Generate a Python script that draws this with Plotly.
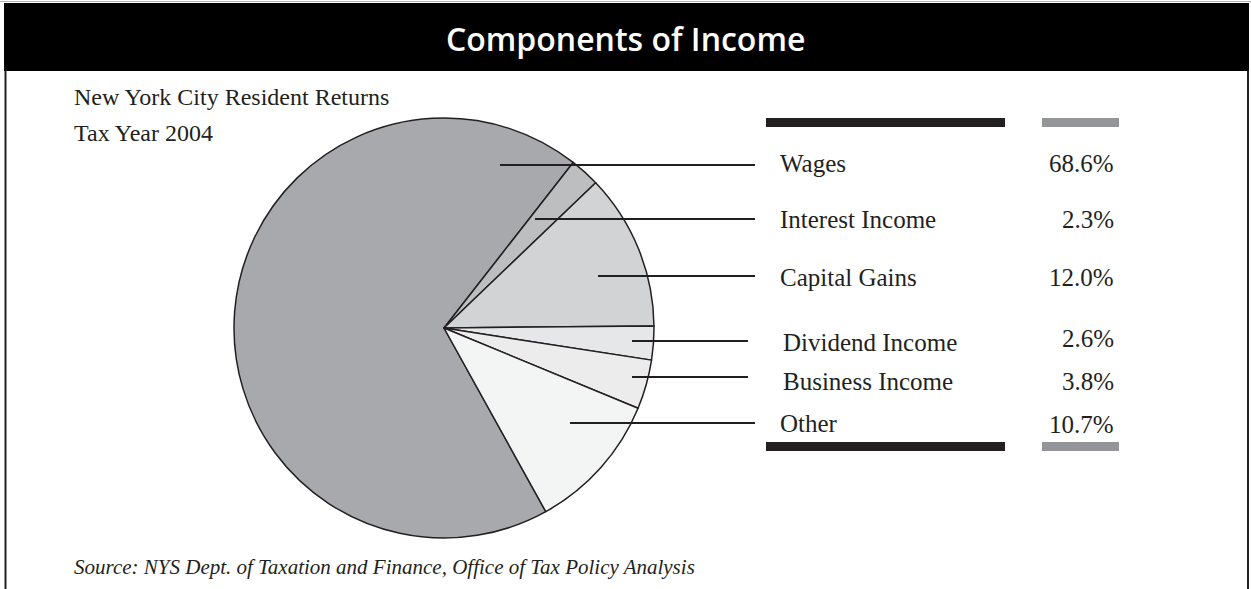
import plotly.graph_objects as go

W, H = 1251, 589

# data
categories = ["Wages", "Interest Income", "Capital Gains", "Dividend Income", "Business Income", "Other"]
shares = [68.6, 2.3, 12.0, 2.6, 3.8, 10.7]
share_labels = ["68.6%", "2.3%", "12.0%", "2.6%", "3.8%", "10.7%"]
slice_colors = ["#a7a9ac", "#bcbec0", "#d1d3d4", "#e6e7e8", "#ececed", "#f3f4f4"]

# layout bits (pixel positions from the top-left of the page)
label_rows = [164, 220, 277, 342, 381, 423]
value_rows = [163, 220, 277, 338, 381, 424]
label_x = [778, 778, 778, 781, 781, 778]
leader_start = [500, 535, 598, 632, 632, 570]
leader_y = [165, 219, 276, 341, 377, 423]
leader_end = [755, 755, 755, 748, 748, 755]


def px(x):
    return x / W


def py(y):
    return 1 - y / H


# pie centre (444, 328), radius 210
cx, cy, r = 444, 328, 210
fig = go.Figure()
fig.add_trace(go.Pie(
    labels=categories,
    values=shares,
    sort=False,
    direction="clockwise",
    rotation=151,
    textinfo="none",
    hoverinfo="label+percent",
    marker=dict(colors=slice_colors, line=dict(color="#231f20", width=1.5)),
    domain=dict(x=[px(cx - r), px(cx + r)], y=[py(cy + r), py(cy - r)]),
    showlegend=False,
))

shapes = []
# title bar and frame
shapes.append(dict(type="rect", xref="paper", yref="paper", x0=px(4), x1=px(1249), y0=py(71), y1=py(3),
                   fillcolor="black", line=dict(width=0), layer="below"))
shapes.append(dict(type="line", xref="paper", yref="paper", x0=0, x1=1, y0=py(1.5), y1=py(1.5),
                   line=dict(color="#b0b0b0", width=1)))
for xb in [5.5, 1248]:
    shapes.append(dict(type="line", xref="paper", yref="paper", x0=px(xb), x1=px(xb), y0=py(70), y1=0,
                       line=dict(color="#231f20", width=2)))

# table rules
for yb in [122.5, 446.5]:
    shapes.append(dict(type="rect", xref="paper", yref="paper", x0=px(766), x1=px(1005), y0=py(yb + 4.5), y1=py(yb - 4.5),
                       fillcolor="#231f20", line=dict(width=0)))
    shapes.append(dict(type="rect", xref="paper", yref="paper", x0=px(1042), x1=px(1119), y0=py(yb + 4.5), y1=py(yb - 4.5),
                       fillcolor="#939598", line=dict(width=0)))

# leader lines
for x0, x1, y in zip(leader_start, leader_end, leader_y):
    shapes.append(dict(type="line", xref="paper", yref="paper", x0=px(x0), x1=px(x1), y0=py(y), y1=py(y),
                       line=dict(color="#231f20", width=2)))

serif = "Liberation Serif"
annotations = [
    dict(text="Components of Income", x=0.5, y=py(39), xref="paper", yref="paper",
         xanchor="center", yanchor="middle", showarrow=False,
         font=dict(family="Open Sans", size=32, color="white", weight=600)),
    dict(text="New York City Resident Returns", x=px(72), y=py(97), xref="paper", yref="paper",
         xanchor="left", yanchor="middle", showarrow=False, font=dict(family=serif, size=24, color="#231f20")),
    dict(text="Tax Year 2004", x=px(72), y=py(133), xref="paper", yref="paper",
         xanchor="left", yanchor="middle", showarrow=False, font=dict(family=serif, size=24, color="#231f20")),
    dict(text="<i>Source: NYS Dept. of Taxation and Finance, Office of Tax Policy Analysis</i>", x=px(72), y=py(567),
         xref="paper", yref="paper", xanchor="left", yanchor="middle", showarrow=False,
         font=dict(family=serif, size=21, color="#231f20")),
]
for name, lx, ly in zip(categories, label_x, label_rows):
    annotations.append(dict(text=name, x=px(lx), y=py(ly), xref="paper", yref="paper",
                            xanchor="left", yanchor="middle", showarrow=False,
                            font=dict(family=serif, size=25, color="#231f20")))
for val, vy in zip(share_labels, value_rows):
    annotations.append(dict(text=val, x=px(1116), y=py(vy), xref="paper", yref="paper",
                            xanchor="right", yanchor="middle", showarrow=False,
                            font=dict(family=serif, size=25, color="#231f20")))

fig.update_layout(
    width=W, height=H,
    margin=dict(l=0, r=0, t=0, b=0),
    paper_bgcolor="white",
    plot_bgcolor="white",
    shapes=shapes,
    annotations=annotations,
)

# drop the browser's default 8px body margin so the figure fills the window
fig.write_html("out.html", config={"displayModeBar": False},
               post_script="document.body.style.margin='0';document.body.style.overflow='hidden';")
